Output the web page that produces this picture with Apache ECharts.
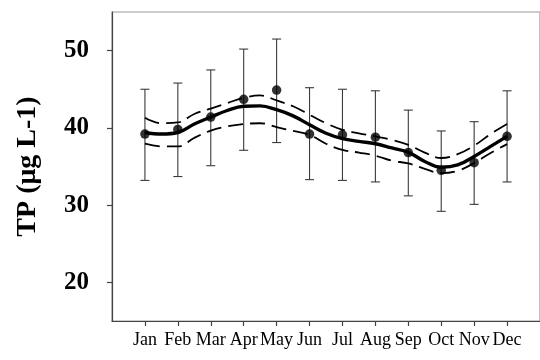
<!DOCTYPE html>
<html>
<head>
<meta charset="utf-8">
<script src="https://cdn.jsdelivr.net/npm/echarts@6/dist/echarts.min.js"></script>
<style>
  html, body { margin: 0; padding: 0; background: #fff; }
  #chart { width: 540px; height: 360px; }
</style>
</head>
<body>
<div id="chart"></div>
<script>
// Monthly observations: month index (1 = Jan), mean TP and error bar limits
const months = ['Jan', 'Feb', 'Mar', 'Apr', 'May', 'Jun', 'Jul', 'Aug', 'Sep', 'Oct', 'Nov', 'Dec'];
const monthPos = [1, 2, 3, 4, 5, 6, 7, 8, 9, 10, 11, 12];
const meanTP = [39.2, 39.8, 41.4, 43.7, 44.9, 39.2, 39.1, 38.8, 36.8, 34.5, 35.5, 38.9];
const upperTP = [45.0, 45.8, 47.5, 50.2, 51.5, 45.2, 45.0, 44.8, 42.3, 39.6, 40.8, 44.8];
const lowerTP = [33.2, 33.7, 35.1, 37.1, 38.1, 33.3, 33.2, 33.0, 31.2, 29.2, 30.1, 33.0];

// Seasonal fit with its confidence band, sampled every half month
const fitPos = [1, 1.5, 2, 2.5, 3, 3.5, 4, 4.5, 5, 5.5, 6, 6.5, 7, 7.5, 8, 8.5, 9, 9.5, 10, 10.5, 11, 11.5, 12];
const fitMid = [39.4, 39.2, 39.4, 40.5, 41.4, 42.25, 42.8, 42.85, 42.35, 41.55, 40.4, 39.3, 38.6, 38.25, 37.95, 37.4, 36.85, 35.65, 34.9, 35.2, 36.3, 37.6, 38.9];
const fitHigh = [41.3, 40.6, 40.7, 41.8, 42.5, 43.2, 43.9, 44.2, 43.55, 42.8, 41.7, 40.6, 39.75, 39.3, 38.9, 38.45, 37.8, 36.8, 36.1, 36.6, 37.7, 39.2, 40.5];
const fitLow = [37.95, 37.6, 37.6, 38.7, 39.65, 40.2, 40.5, 40.6, 40.1, 39.6, 39.1, 37.95, 37.15, 36.8, 36.4, 35.75, 35.4, 34.7, 34.15, 34.45, 35.45, 36.75, 37.9];

const yTicks = [20, 30, 40, 50];

const pair = (xs, ys) => xs.map((x, i) => [x, ys[i]]);

const chart = echarts.init(document.getElementById('chart'), null, { renderer: 'canvas' });

const serif = 'Liberation Serif, Times New Roman, serif';

chart.setOption({
  animation: false,
  backgroundColor: '#ffffff',
  grid: {
    left: 112, top: 12, width: 431, height: 309,
    show: true, borderColor: '#999999', borderWidth: 1.2, backgroundColor: 'transparent'
  },
  xAxis: {
    type: 'value', min: 0, max: 13,
    splitLine: { show: false },
    axisLine: { lineStyle: { color: '#444444', width: 1.2 } },
    axisTick: { customValues: monthPos, length: 5, lineStyle: { color: '#444444', width: 1.2 } },
    axisLabel: {
      customValues: monthPos,
      formatter: v => months[Math.round(v) - 1] || '',
      fontFamily: serif, fontSize: 18, color: '#000', margin: 10
    }
  },
  yAxis: {
    type: 'value', min: 15, max: 55,
    name: 'TP (μg L-1)', nameLocation: 'middle', nameRotate: 90, nameGap: 70,
    nameTextStyle: { fontFamily: serif, fontSize: 28, fontWeight: 'bold', color: '#000' },
    splitLine: { show: false },
    axisLine: { lineStyle: { color: '#444444', width: 1.2 } },
    axisTick: { customValues: yTicks, length: 5, lineStyle: { color: '#444444', width: 1.2 } },
    axisLabel: {
      customValues: yTicks,
      fontFamily: serif, fontSize: 25, fontWeight: 'bold', color: '#000', margin: 23
    }
  },
  series: [
    {
      type: 'custom',
      name: 'range',
      data: monthPos.map((x, i) => [x, lowerTP[i], upperTP[i]]),
      renderItem: (params, api) => {
        const lo = api.coord([api.value(0), api.value(1)]);
        const hi = api.coord([api.value(0), api.value(2)]);
        const w = 4.5;
        const style = { stroke: '#3a3a3a', lineWidth: 1.1 };
        return {
          type: 'group',
          children: [
            { type: 'line', shape: { x1: hi[0], y1: hi[1], x2: lo[0], y2: lo[1] }, style },
            { type: 'line', shape: { x1: hi[0] - w, y1: hi[1], x2: hi[0] + w, y2: hi[1] }, style },
            { type: 'line', shape: { x1: lo[0] - w, y1: lo[1], x2: lo[0] + w, y2: lo[1] }, style }
          ]
        };
      },
      z: 1
    },
    {
      type: 'line', name: 'upper band', data: pair(fitPos, fitHigh), smooth: 0.4,
      showSymbol: false,
      lineStyle: { color: '#000', width: 1.8, type: [15, 7] }, z: 2
    },
    {
      type: 'line', name: 'lower band', data: pair(fitPos, fitLow), smooth: 0.4,
      showSymbol: false,
      lineStyle: { color: '#000', width: 1.8, type: [15, 7] }, z: 2
    },
    {
      type: 'line', name: 'fit', data: pair(fitPos, fitMid), smooth: 0.4,
      showSymbol: false,
      lineStyle: { color: '#000', width: 3.4 }, z: 3
    },
    {
      type: 'scatter', name: 'mean', data: pair(monthPos, meanTP),
      symbol: 'circle', symbolSize: 9.5,
      itemStyle: { color: '#000' }, z: 4
    }
  ]
});
</script>
</body>
</html>
